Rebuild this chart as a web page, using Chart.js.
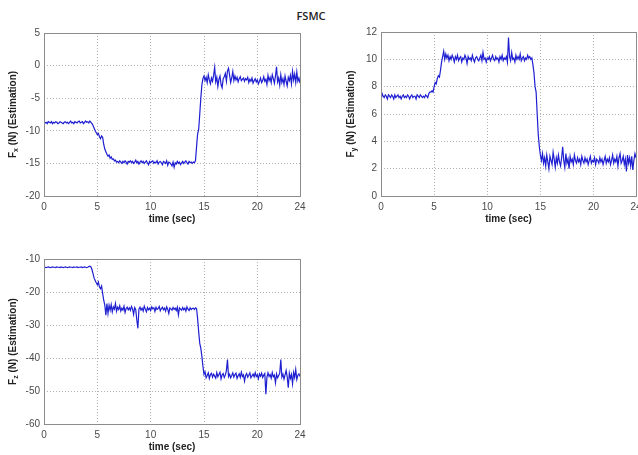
<!DOCTYPE html>
<html>
<head>
<meta charset="utf-8">
<script src="https://cdn.jsdelivr.net/npm/chart.js@4/dist/chart.umd.min.js"></script>
<style>
  body { margin: 0; background: #fff; }
  #wrap { position: relative; width: 638px; height: 455px; overflow: hidden; }
  #wrap canvas { position: absolute; left: 0; top: 0; }
  #title { position: absolute; left: 0; top: 8px; width: 622px; text-align: center;
           font: 600 11px "Open Sans", sans-serif; color: #222; }
</style>
</head>
<body>
<div id="wrap">
  <div id="title">FSMC</div>
  <canvas id="fx" width="660" height="455"></canvas>
  <canvas id="fy" width="660" height="455"></canvas>
  <canvas id="fz" width="660" height="455"></canvas>
</div>
<script>
// sampled every 0.1 s, 0..24 s
const sampleStep = 0.1;

const Fx = [
  -8.6,-8.8,-8.7,-8.9,-8.6,-8.7,-8.8,-8.6,-8.9,-8.7,
  -8.8,-8.6,-8.7,-8.9,-8.8,-8.6,-8.7,-8.8,-8.9,-8.7,
  -8.6,-8.8,-8.7,-8.9,-8.7,-8.5,-8.8,-8.7,-8.9,-8.6,
  -8.7,-8.8,-8.6,-8.5,-8.8,-8.7,-8.6,-8.9,-8.7,-8.5,
  -8.7,-8.6,-8.8,-8.5,-8.7,-8.9,-9.2,-9.6,-10.0,-10.3,
  -10.6,-10.4,-10.9,-11.2,-10.8,-11.0,-12.1,-12.8,-13.2,-13.6,
  -13.9,-13.7,-14.2,-14.0,-14.4,-14.3,-14.6,-14.5,-14.8,-14.7,
  -14.9,-14.6,-14.8,-15.0,-14.7,-14.9,-14.6,-14.8,-15.1,-14.7,
  -14.8,-14.6,-14.9,-14.7,-15.0,-14.8,-14.5,-14.9,-14.7,-15.1,
  -14.8,-14.6,-14.9,-14.7,-15.0,-14.8,-14.6,-14.9,-15.2,-14.7,
  -14.9,-14.7,-14.6,-15.0,-14.8,-14.9,-14.6,-15.1,-14.8,-14.7,
  -14.9,-15.2,-14.7,-14.8,-15.0,-14.6,-15.3,-14.8,-14.9,-15.1,
  -15.4,-14.8,-15.6,-14.9,-15.1,-14.7,-15.0,-14.8,-15.2,-14.9,
  -14.7,-15.0,-14.8,-14.6,-14.9,-15.1,-14.7,-14.9,-14.8,-15.0,
  -14.8,-14.9,-14.6,-12.5,-10.5,-9.8,-7.5,-5.0,-3.0,-2.0,
  -1.6,-2.3,-1.8,-2.6,-1.4,-2.2,-2.8,-1.9,-2.4,-1.5,
  -0.3,-2.5,-1.8,-3.2,-2.1,-1.6,-2.9,-3.4,-2.0,-1.7,
  -1.2,-2.4,-0.8,-0.4,-1.5,-2.6,-1.9,-0.9,-2.3,-1.6,
  -2.2,-1.8,-2.5,-2.0,-1.7,-2.3,-2.1,-1.9,-2.4,-2.0,
  -2.2,-1.8,-2.6,-2.1,-2.4,-1.9,-2.7,-2.3,-2.0,-2.5,
  -2.2,-2.8,-2.4,-1.9,-2.6,-2.3,-1.7,-2.4,-2.1,-2.9,
  -1.5,-2.3,-1.8,-2.6,-1.4,-2.0,-2.7,-1.6,-0.2,-2.5,
  -1.9,-3.0,-1.4,-2.6,-2.0,-2.9,-1.6,-2.4,-3.1,-1.8,
  -2.3,-1.5,-2.8,-0.9,-2.2,-1.3,-2.6,-1.0,-2.4,-1.9,
  -2.7
];

const Fy = [
  7.0,7.5,7.3,7.2,7.4,7.3,7.1,7.4,7.3,7.2,
  7.4,7.3,7.1,7.4,7.2,7.3,7.4,7.2,7.3,7.1,
  7.3,7.4,7.2,7.3,7.2,7.4,7.3,7.1,7.3,7.4,
  7.2,7.3,7.3,7.1,7.4,7.3,7.2,7.4,7.3,7.2,
  7.3,7.2,7.4,7.3,7.2,7.5,7.6,7.6,7.7,7.6,
  8.0,8.3,8.2,8.6,8.8,8.7,9.2,9.8,10.2,10.6,
  10.0,10.4,10.1,10.3,9.9,10.2,10.0,10.3,10.1,9.8,
  10.2,10.0,10.3,9.9,10.1,10.2,9.8,10.1,10.0,10.3,
  10.1,9.7,10.2,10.0,10.1,9.9,10.3,10.0,9.8,10.1,
  10.2,10.0,9.9,10.1,10.3,9.9,10.5,10.0,10.1,9.8,
  10.1,10.0,10.2,9.9,10.1,10.3,10.0,9.9,10.2,10.0,
  10.1,9.8,10.2,10.0,10.3,9.9,10.1,10.0,10.2,9.8,
  11.6,10.2,9.9,10.5,10.0,10.1,9.8,10.3,10.0,10.2,
  10.0,10.4,9.9,10.1,10.2,9.9,10.1,10.0,10.3,10.1,
  10.2,10.0,10.1,9.6,9.0,8.0,7.6,6.0,4.5,3.6,
  3.0,2.6,3.1,2.4,2.8,2.2,3.0,2.5,2.0,2.9,
  2.6,2.3,3.2,2.7,2.1,2.8,2.4,3.0,2.5,2.2,
  2.8,3.6,2.6,2.1,3.1,2.4,2.7,2.0,2.9,2.5,
  2.7,2.3,3.0,2.6,2.4,2.8,2.5,2.7,2.3,2.9,
  2.6,2.4,2.8,2.5,2.7,2.3,2.6,2.9,2.4,2.6,
  2.5,2.8,2.3,2.7,2.6,2.4,2.8,2.5,2.7,2.3,
  2.6,2.9,2.4,2.7,2.5,2.8,2.3,2.6,3.0,2.4,
  2.7,2.5,2.9,2.2,2.8,3.1,2.4,2.6,2.9,2.3,
  2.7,1.8,3.0,2.4,2.8,2.2,2.9,1.9,2.6,3.1,
  2.8
];

const Fz = [
  -12.4,-12.5,-12.6,-12.5,-12.4,-12.5,-12.6,-12.5,-12.4,-12.5,
  -12.5,-12.6,-12.4,-12.5,-12.5,-12.6,-12.4,-12.5,-12.6,-12.5,
  -12.4,-12.5,-12.6,-12.5,-12.4,-12.5,-12.5,-12.6,-12.4,-12.5,
  -12.5,-12.4,-12.6,-12.5,-12.5,-12.4,-12.6,-12.5,-12.4,-12.5,
  -12.6,-12.5,-12.3,-12.2,-12.4,-13.2,-14.5,-15.8,-16.5,-17.2,
  -17.8,-17.0,-18.5,-19.0,-18.2,-20.5,-22.5,-24.0,-27.0,-23.5,
  -26.5,-24.0,-25.5,-23.8,-26.0,-24.5,-25.2,-23.5,-25.8,-24.6,
  -25.3,-24.2,-25.8,-24.9,-25.5,-24.3,-26.2,-25.0,-24.6,-25.4,
  -24.8,-25.6,-24.4,-25.1,-26.8,-24.7,-25.3,-28.5,-31.0,-25.2,
  -24.6,-25.5,-24.9,-25.8,-24.3,-25.2,-26.0,-24.7,-25.4,-24.9,
  -25.6,-24.5,-25.1,-24.8,-25.9,-24.6,-25.3,-25.0,-24.4,-25.7,
  -25.0,-24.6,-25.4,-24.9,-25.8,-24.5,-25.2,-26.5,-24.8,-25.1,
  -25.5,-24.7,-25.3,-24.9,-25.6,-24.6,-26.9,-24.8,-25.2,-25.5,
  -24.7,-25.4,-24.9,-25.8,-24.5,-25.2,-25.6,-24.8,-25.3,-25.0,
  -24.9,-25.3,-24.8,-25.0,-28.0,-32.0,-35.5,-37.0,-39.5,-42.5,
  -45.0,-44.2,-46.0,-45.3,-44.5,-46.2,-45.0,-44.6,-45.8,-44.9,
  -45.5,-46.1,-44.4,-45.7,-45.0,-44.3,-46.3,-45.1,-44.7,-45.9,
  -45.2,-43.8,-40.5,-45.6,-44.9,-46.0,-45.3,-44.5,-45.8,-45.0,
  -44.6,-46.2,-45.4,-44.8,-45.9,-44.3,-45.6,-45.1,-47.0,-45.3,
  -44.7,-45.8,-45.2,-44.5,-46.0,-45.4,-44.9,-45.7,-44.4,-45.6,
  -45.1,-46.3,-44.8,-45.5,-44.6,-45.9,-45.2,-44.7,-51.0,-45.8,
  -44.5,-45.6,-45.0,-46.1,-44.4,-45.7,-45.2,-47.5,-44.8,-46.0,
  -45.3,-44.6,-40.5,-45.8,-44.9,-46.4,-45.1,-43.8,-45.7,-49.0,
  -44.6,-46.2,-45.0,-47.8,-44.4,-45.9,-43.5,-46.5,-45.2,-44.8,
  -45.6
];

const timeTicks = [0, 5, 10, 15, 20, 24];
const fxTicks = [-20, -15, -10, -5, 0, 5];
const fyTicks = [0, 2, 4, 6, 8, 10, 12];
const fzTicks = [-60, -50, -40, -30, -20, -10];

const time = Fx.map((_, i) => +(i * sampleStep).toFixed(1));

// box round the plot + axis titles (y title has a subscript)
const frame = {
  id: 'frame',
  afterDraw(chart, args, opts) {
    const ctx = chart.ctx, a = chart.chartArea;
    ctx.save();
    ctx.strokeStyle = '#8c8c8c';
    ctx.lineWidth = 1;
    ctx.strokeRect(Math.round(a.left) + 0.5, Math.round(a.top) + 0.5,
                   Math.round(a.width), Math.round(a.height));

    ctx.fillStyle = '#222';
    ctx.font = 'bold 10px "Liberation Sans", Arial, sans-serif';
    ctx.textAlign = 'center';
    ctx.textBaseline = 'middle';
    ctx.fillText('time (sec)', (a.left + a.right) / 2, a.bottom + 23);

    ctx.translate(opts.titleX, (a.top + a.bottom) / 2);
    ctx.rotate(-Math.PI / 2);
    const big = 'bold 10px "Liberation Sans", Arial, sans-serif';
    const small = 'bold 7px "Liberation Sans", Arial, sans-serif';
    const rest = ' (N) (Estimation)';
    ctx.font = big;
    const wF = ctx.measureText('F').width, wR = ctx.measureText(rest).width;
    ctx.font = small;
    const wS = ctx.measureText(opts.sub).width;
    let x0 = -(wF + wS + wR) / 2;
    ctx.textAlign = 'left';
    ctx.font = big;
    ctx.fillText('F', x0, 0);
    ctx.font = small;
    ctx.fillText(opts.sub, x0 + wF, 3);
    ctx.font = big;
    ctx.fillText(rest, x0 + wF + wS, 0);
    ctx.restore();
  }
};

function makePlot(id, values, yTicks, sub, pad, titleX) {
  new Chart(document.getElementById(id), {
    type: 'line',
    data: {
      datasets: [{
        data: values.map((v, i) => ({ x: time[i], y: v })),
        borderColor: '#1f1fd2',
        borderWidth: 1.2,
        pointRadius: 0,
        tension: 0,
        fill: false
      }]
    },
    options: {
      responsive: false,
      animation: false,
      events: [],
      layout: { padding: pad },
      plugins: {
        legend: { display: false },
        tooltip: { enabled: false },
        frame: { sub: sub, titleX: titleX }
      },
      scales: {
        x: {
          type: 'linear',
          min: 0, max: 24,
          afterBuildTicks: s => { s.ticks = timeTicks.map(v => ({ value: v })); },
          afterFit: s => { s.height = 20; },
          grid: { color: '#b0b0b0', drawTicks: false },
          border: { display: false, dash: [1, 2] },
          ticks: { color: '#4a4a4a', padding: 5, maxRotation: 0,
                   font: { size: 10, family: '"Liberation Sans", Arial, sans-serif' } }
        },
        y: {
          min: yTicks[0], max: yTicks[yTicks.length - 1],
          afterBuildTicks: s => { s.ticks = yTicks.map(v => ({ value: v })); },
          afterFit: s => { s.width = 30; },
          grid: { color: '#b0b0b0', drawTicks: false },
          border: { display: false, dash: [1, 2] },
          ticks: { color: '#4a4a4a', padding: 4,
                   font: { size: 10, family: '"Liberation Sans", Arial, sans-serif' } }
        }
      }
    },
    plugins: [frame]
  });
}

makePlot('fx', Fx, fxTicks, 'x', { left: 14, right: 360, top: 33, bottom: 239 }, 13);
makePlot('fy', Fy, fyTicks, 'y', { left: 351, right: 24, top: 32, bottom: 239 }, 351);
makePlot('fz', Fz, fzTicks, 'z', { left: 14, right: 360, top: 259, bottom: 11 }, 13);
</script>
</body>
</html>
